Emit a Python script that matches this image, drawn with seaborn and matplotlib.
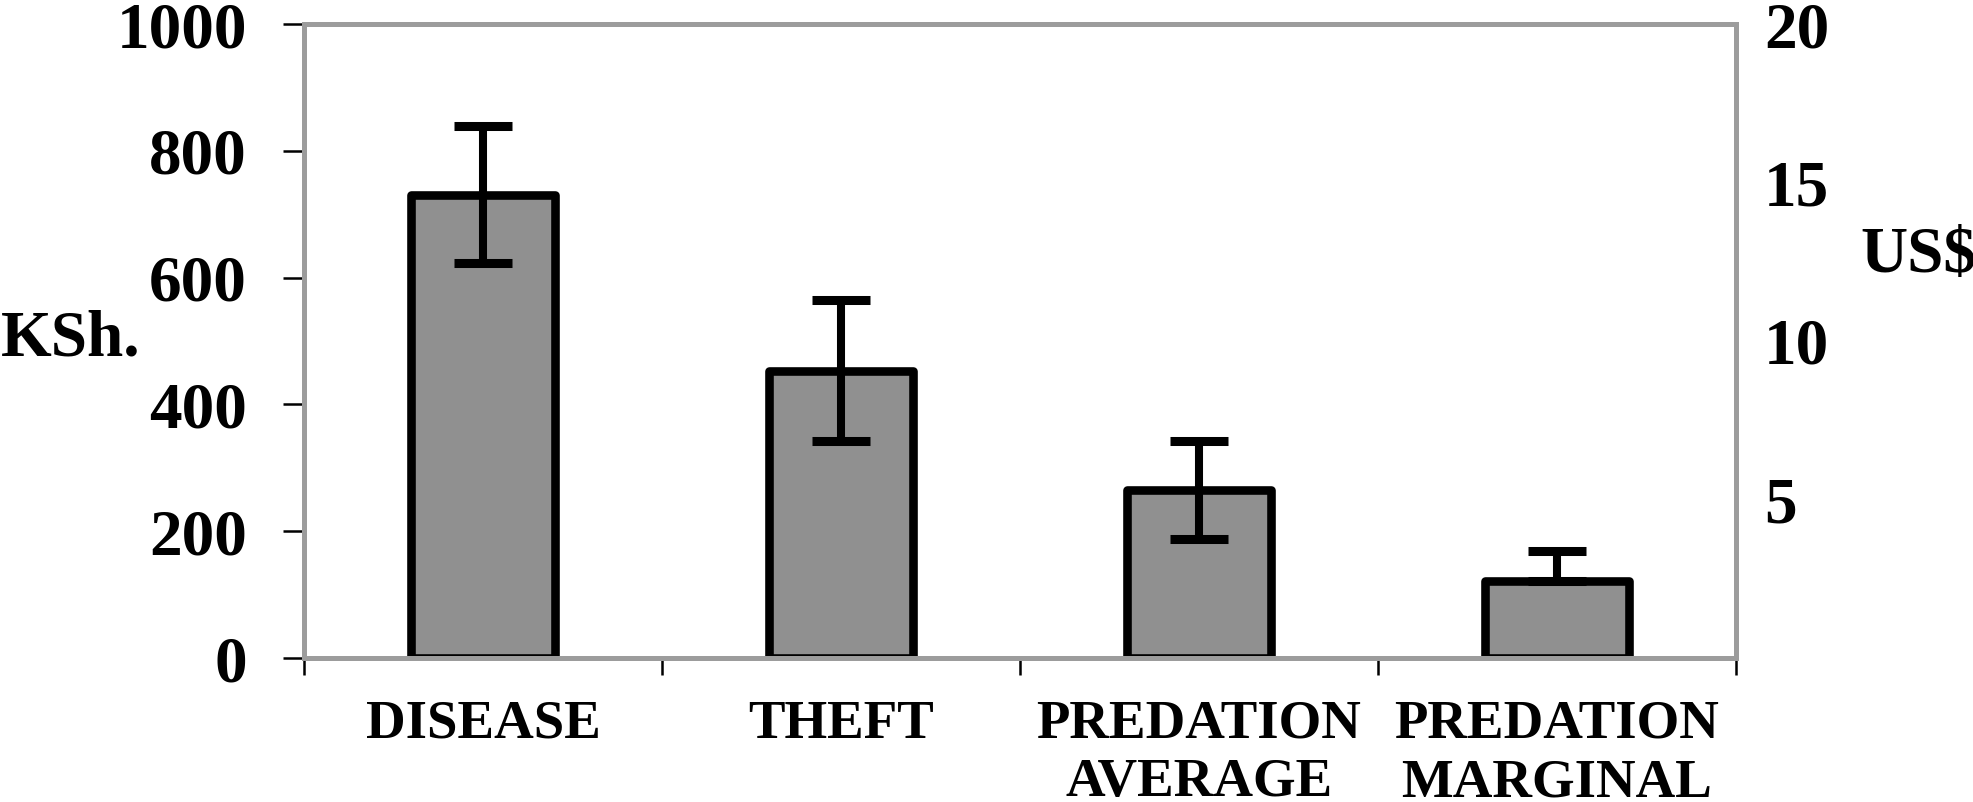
import seaborn as sns
import matplotlib.pyplot as plt
import numpy as np

# valores (KSh.)
categorias = ["DISEASE", "THEFT", "PREDATION\nAVERAGE", "PREDATION\nMARGINAL"]
custo_ksh = [731, 453, 265, 122]
erro_inferior = [108, 111, 78, 0]
erro_superior = [108, 111, 78, 47]
ticks_ksh = [0, 200, 400, 600, 800, 1000]
ticks_usd = [5, 10, 15, 20]

sns.set_theme(style="white")
plt.rcParams['font.family'] = ['Liberation Serif', 'DejaVu Serif']
plt.rcParams['font.weight'] = 'bold'
plt.rcParams['text.color'] = 'black'
plt.rcParams['axes.labelcolor'] = 'black'
plt.rcParams['xtick.color'] = 'black'
plt.rcParams['ytick.color'] = 'black'

cinza_borda = '#9c9c9c'

fig = plt.figure(figsize=(19.73, 8.02), dpi=100)
ax = fig.add_axes([304 / 1973, 1 - 658 / 802, 1432 / 1973, 634 / 802])

sns.barplot(x=categorias, y=custo_ksh, color='#909090', saturation=1,
            edgecolor='black', linewidth=6.2, width=0.4, errorbar=None, ax=ax)
for barra in ax.patches:
    barra.set_joinstyle('round')

ax.errorbar(np.arange(len(categorias)), custo_ksh,
            yerr=[erro_inferior, erro_superior], fmt='none',
            ecolor='black', elinewidth=5.8, capsize=21, capthick=6.5, zorder=5)

ax.set_xlim(-0.5, len(categorias) - 0.5)
ax.set_ylim(0, 1000)
ax.set_yticks(ticks_ksh)
ax.tick_params(axis='y', which='major', direction='out', length=15, width=1.8,
               color='black', labelcolor='black', pad=26, labelsize=47, left=True)
ax.set_xticks(np.arange(len(categorias)))
ax.set_xticklabels(categorias, fontsize=39.5, fontweight='bold', linespacing=1.22,
                   color='black')
ax.set_xticks(np.arange(len(categorias) + 1) - 0.5, minor=True)
ax.tick_params(axis='x', which='major', length=0, pad=30)
ax.tick_params(axis='x', which='minor', direction='out', length=12, width=1.8,
               color='black', bottom=True)
for lbl in ax.get_yticklabels():
    lbl.set_fontweight('bold')

for lado in ['left', 'right', 'top', 'bottom']:
    ax.spines[lado].set_visible(True)
    ax.spines[lado].set_color(cinza_borda)
    ax.spines[lado].set_linewidth(3.6)
# linhas pretas finas dos eixos
ax.axhline(0, color='black', linewidth=1.8, zorder=1, clip_on=False)
ax.axvline(-0.5, color='black', linewidth=1.8, zorder=1, clip_on=False)

ax.set_xlabel('')
ax.set_ylabel('KSh.', fontsize=47, fontweight='bold', rotation=0,
              ha='left', va='center', color='black')
ax.yaxis.set_label_coords(-0.212, 0.502)

# eixo secundario em US$
ax2 = ax.twinx()
ax2.set_ylim(0, 20)
ax2.set_yticks(ticks_usd)
ax2.tick_params(axis='y', length=0, pad=20, labelsize=47, labelcolor='black')
for lbl in ax2.get_yticklabels():
    lbl.set_fontweight('bold')
for lado in ['left', 'right', 'top', 'bottom']:
    ax2.spines[lado].set_visible(False)
ax2.set_ylabel('US$', fontsize=47, fontweight='bold', rotation=0,
               ha='left', va='center', color='black')
ax2.yaxis.set_label_coords(1.087, 0.634)
ax2.grid(False)
ax.grid(False)

fig.savefig('out.png', dpi=100)
